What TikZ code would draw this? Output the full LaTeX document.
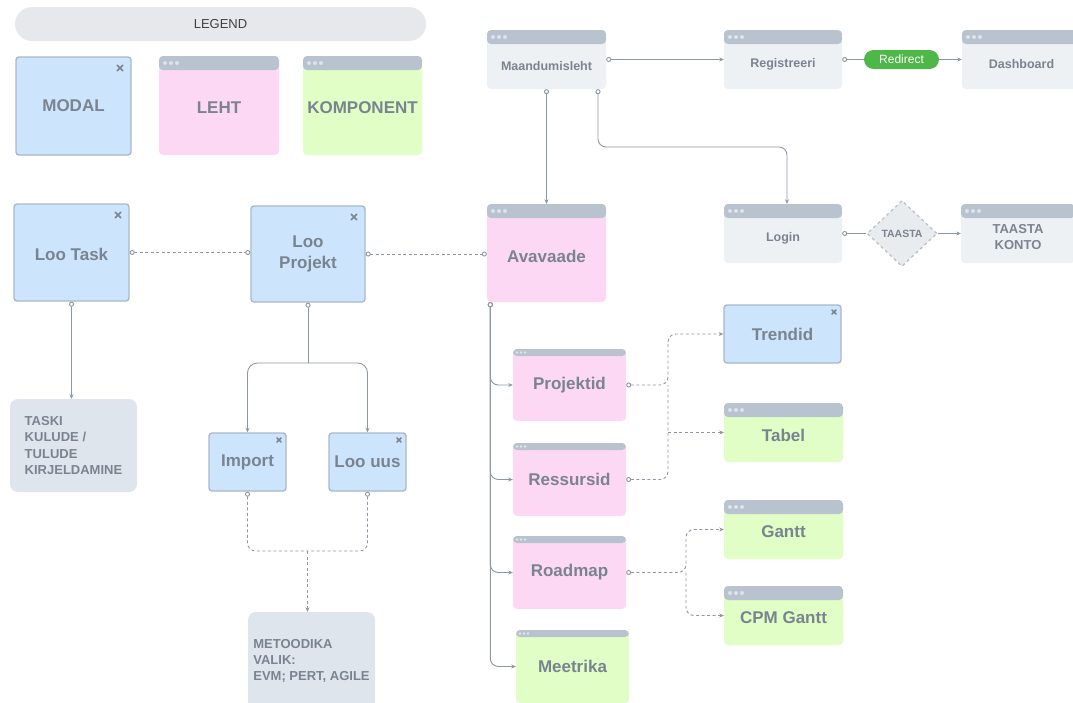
\documentclass[tikz,border=0pt]{standalone}
\usepackage{fontspec}
\setmainfont{Liberation Sans}
\usetikzlibrary{arrows.meta,shapes.geometric}

\definecolor{modalfill}{HTML}{CCE5FD}
\definecolor{modalbd}{HTML}{A9B8C8}
\definecolor{pinkfill}{HTML}{FDD8F5}
\definecolor{greenfill}{HTML}{E0FEC5}
\definecolor{greyfill}{HTML}{EEF1F4}
\definecolor{hdrcol}{HTML}{B8C3CF}
\definecolor{dotcol}{HTML}{DDE3EA}
\definecolor{notefill}{HTML}{DEE5EC}
\definecolor{legendfill}{HTML}{E6E8EB}
\definecolor{legtxt}{HTML}{3C4248}
\definecolor{txt}{HTML}{7A8490}
\definecolor{linec}{HTML}{8E98A3}
\definecolor{redir}{HTML}{4DB748}
\definecolor{xcol}{HTML}{7A8592}
\definecolor{diafill}{HTML}{E9ECEF}
\definecolor{diabd}{HTML}{B9C3CD}

% text lowered below a window header, keeping its nominal extent
\newcommand\dn[2][4pt]{\raisebox{-#1}[\height][\depth]{#2}}

\begin{document}
\begin{tikzpicture}[x=1pt,y=-1pt,
  sz/.style 2 args={minimum width=#1, minimum height=#2},
  box/.style={rectangle, text=txt, inner sep=0pt},
  bigt/.style={font=\fontsize{17}{21}\selectfont\bfseries},
  medt/.style={font=\fontsize{12.5}{15}\selectfont\bfseries},
  winhead/.style n args={3}{path picture={
      \fill[hdrcol] (path picture bounding box.north west) rectangle ([yshift=-#1]path picture bounding box.north east);
      \foreach \k in {1,2,3}
        \fill[dotcol] ([xshift=\k*#2, yshift=-#1/2]path picture bounding box.north west) circle (#3);
    }},
  win/.style={box, fill=greyfill, rounded corners=4pt, winhead={14pt}{6pt}{2pt}},
  thinhead/.style={winhead={7pt}{4pt}{1.3pt}},
  modal/.style 2 args={box, fill=modalfill, draw=modalbd, line width=1.4pt, rounded corners=3pt,
    path picture={
      \path ([xshift=-#1,yshift=-#1]path picture bounding box.north east) coordinate (xc);
      \draw[xcol, line width=1.5pt, line cap=round]
        ([xshift=-#2,yshift=-#2]xc) -- ([xshift=#2,yshift=#2]xc)
        ([xshift=-#2,yshift=#2]xc) -- ([xshift=#2,yshift=-#2]xc);
    }},
  note/.style={box, fill=notefill, rounded corners=8pt, align=left,
    font=\fontsize{13}{16.4}\selectfont\bfseries},
  legendbar/.style={rectangle, fill=legendfill, rounded corners=17pt, text=legtxt,
    font=\fontsize{13}{16}\selectfont},
  redirbox/.style={rectangle, fill=redir, rounded corners=9.5pt, text=white,
    sz={75pt}{19pt}, inner sep=0pt, font=\fontsize{12}{14}\selectfont},
  decision/.style={diamond, aspect=1.06, fill=diafill, draw=diabd, dashed, line width=1.3pt,
    sz={70pt}{66pt}, inner sep=0pt, text=txt, font=\fontsize{10.5}{12}\selectfont\bfseries},
  conn/.style={draw=linec, line width=0.9pt},
  dconn/.style={conn, dash pattern=on 3pt off 2.5pt},
  cca/.style={{Circle[length=5pt,fill=white]}-{Stealth[length=4.5pt,width=4pt]}},
  ccs/.style={{Circle[length=5pt,fill=white]}-},
  ar/.style={-{Stealth[length=4.5pt,width=4pt]}},
  cc2/.style={{Circle[length=5pt,fill=white]}-{Circle[length=5pt,fill=white]}},
]
\fill[white] (0,0) rectangle (1073,702);
\useasboundingbox (0,0) rectangle (1073,702);

% legend
\node[legendbar, sz={411pt}{34pt}] (legend) at (220.5,24) {LEGEND};
\node[modal={11pt}{2.8pt}, sz={115pt}{98pt}, bigt] (modalkey) at (73.5,106) {MODAL};
\node[win, fill=pinkfill, sz={120pt}{99pt}, bigt] (lehtkey) at (219,105.5) {\dn[2.5pt]{LEHT}};
\node[win, fill=greenfill, sz={119pt}{99pt}, bigt] (kompkey) at (362.5,105.5) {\dn[2.5pt]{KOMPONENT}};

% entry pages
\node[win, sz={119pt}{59pt}, medt] (maand) at (546.5,59.5) {\dn[7pt]{Maandumisleht}};
\node[win, sz={118pt}{59pt}, medt] (reg) at (783,59.5) {\dn[4.5pt]{Registreeri}};
\node[win, sz={119pt}{59pt}, medt] (dash) at (1021.5,59.5) {\dn[4.5pt]{Dashboard}};
\node[redirbox] (redirect) at (901.5,59.5) {Redirect};
\node[win, sz={118pt}{59pt}, medt] (login) at (783,233.5) {\dn[4.5pt]{Login}};
\node[decision] (taasta) at (902,233.5) {TAASTA};
\node[win, sz={114pt}{59pt}, font=\fontsize{13}{16}\selectfont\bfseries] (konto) at (1018,233.5) {\dn[5pt]{\begin{tabular}{@{}c@{}}TAASTA\\KONTO\end{tabular}}};

% creation modals
\node[modal={11pt}{2.8pt}, sz={115pt}{97pt}, bigt] (lootask) at (71.5,252.5) {\dn[1.5pt]{Loo Task}};
\node[modal={11pt}{2.8pt}, sz={114pt}{96pt}, bigt, align=center] (looproj) at (308,254) {Loo\\Projekt};
\node[win, fill=pinkfill, sz={119pt}{98pt}, bigt] (avavaade) at (546.5,253) {\dn[3pt]{Avavaade}};
\node[note, sz={127pt}{93pt}] (taski) at (73.5,445.5) {TASKI\\KULUDE /\\TULUDE\\KIRJELDAMINE};
\node[modal={7pt}{2pt}, sz={77pt}{58pt}, bigt] (import) at (247.5,462) {Import};
\node[modal={7pt}{2pt}, sz={77pt}{58pt}, bigt] (loouus) at (367.5,462) {Loo uus};
\node[note, sz={127pt}{98pt}] (metood) at (311.5,661) {METOODIKA\\VALIK:\\EVM; PERT, AGILE};

% dashboard sections
\node[win, thinhead, fill=pinkfill, sz={113pt}{72pt}, bigt] (projektid) at (569.5,385) {Projektid};
\node[win, thinhead, fill=pinkfill, sz={113pt}{73pt}, bigt] (ressursid) at (569.5,479.5) {Ressursid};
\node[win, thinhead, fill=pinkfill, sz={113pt}{73pt}, bigt] (roadmap) at (569.5,572.5) {Roadmap};
\node[win, thinhead, fill=greenfill, sz={113pt}{73pt}, bigt] (meetrika) at (572.5,666.5) {Meetrika};
\node[modal={7pt}{2pt}, sz={117pt}{58pt}, bigt] (trendid) at (782.5,334) {Trendid};
\node[win, fill=greenfill, sz={119pt}{59pt}, bigt] (tabel) at (783.5,432.5) {\dn[2.5pt]{Tabel}};
\node[win, fill=greenfill, sz={119pt}{59pt}, bigt] (gantt) at (783.5,529.5) {\dn[2.5pt]{Gantt}};
\node[win, fill=greenfill, sz={119pt}{59pt}, bigt] (cpm) at (783.5,615.5) {\dn[2.5pt]{CPM Gantt}};

% top flow
\draw[conn, cca] (maand.east) -- (reg.west);
\draw[conn, ccs] (reg.east) -- (redirect.west);
\draw[conn, ar] (redirect.east) -- (dash.west);
\draw[conn, cca] (maand.south) -- (avavaade.north);
\coordinate (mbend) at (598,147);
\draw[conn, cca, rounded corners=8pt] ([xshift=51.5pt]maand.south) -- (mbend) -| ([xshift=4pt]login.north);
\draw[conn, ccs] (login.east) -- (taasta.west);
\draw[conn, ar] (taasta.east) -- (konto.west);

% modals chain
\draw[dconn, cc2] (lootask.east) -- (lootask.east -| looproj.west);
\draw[dconn, cc2] (looproj.east) -- (looproj.east -| avavaade.west);
\draw[conn, cca] (lootask.south) -- (lootask.south |- taski.north);

\coordinate (psplit) at (308,363);
\draw[conn, ccs] (looproj.south) -- (psplit);
\draw[conn, ar, rounded corners=10pt] (psplit) -| (import.north);
\draw[conn, ar, rounded corners=10pt] (psplit) -| (loouus.north);

\coordinate (msplit) at (307.5,551);
\draw[dconn, ccs, rounded corners=8pt] (import.south) |- (msplit);
\draw[dconn, ccs, rounded corners=8pt] (loouus.south) |- (msplit);
\draw[dconn, ar] (msplit) -- (msplit |- metood.north);

% Avavaade trunk
\coordinate (avs) at ([xshift=3.5pt]avavaade.south west);
\draw[conn, cca, rounded corners=8pt] (avs) |- (projektid.west);
\draw[conn, cca, rounded corners=8pt] (avs) |- (ressursid.west);
\draw[conn, cca, rounded corners=8pt] (avs) |- (roadmap.west);
\draw[conn, cca, rounded corners=8pt] (avs) |- (meetrika.west);

% section details
\coordinate (pj) at (668,385);
\coordinate (rs) at (668,479.5);
\draw[dconn, cca, rounded corners=8pt] (projektid.east) -- (pj) |- (trendid.west);
\draw[dconn, ccs, rounded corners=8pt] (ressursid.east) -- (rs) -- (pj);
\draw[dconn, ar] (pj |- tabel.west) -- (tabel.west);

\coordinate (rm) at (686,572.5);
\draw[dconn, cca, rounded corners=8pt] (roadmap.east) -- (rm) |- (gantt.west);
\draw[dconn, ar, rounded corners=8pt] (rm) |- (cpm.west);
\end{tikzpicture}
\end{document}
